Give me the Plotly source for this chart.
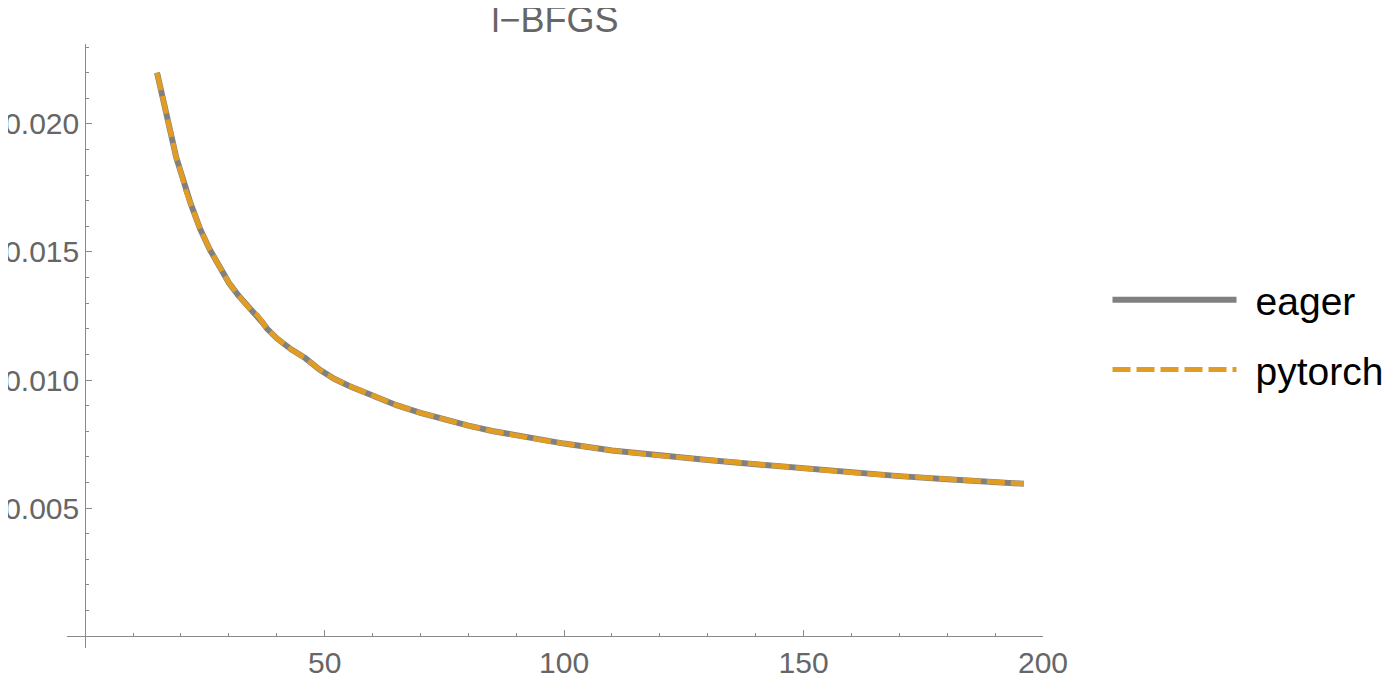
import plotly.graph_objects as go

iterations = [15, 16, 17, 18, 19, 20, 21, 22, 23, 24, 26, 28, 30, 32, 34, 35, 36, 37, 38, 40,
              43, 46, 49, 52, 55, 60, 65, 70, 75, 80, 85, 90, 95, 100, 110, 120, 130, 140,
              150, 160, 170, 180, 190, 196]
eager = [0.0220, 0.0212, 0.0202, 0.0194, 0.0187, 0.0181, 0.0174, 0.0169, 0.0164, 0.0159,
         0.0151, 0.0144, 0.0138, 0.0133, 0.0129, 0.01265, 0.01253, 0.01225, 0.01200, 0.01163,
         0.01120, 0.01085, 0.01040, 0.01005, 0.00978, 0.00940, 0.00902, 0.00872, 0.00846,
         0.00822, 0.00801, 0.00783, 0.00767, 0.00752, 0.00725, 0.00705, 0.00688, 0.00671,
         0.00655, 0.00639, 0.00625, 0.00613, 0.00602, 0.00595]
pytorch = list(eager)

x_ticks = [50, 100, 150, 200]
y_ticks = [0.005, 0.010, 0.015, 0.020]
y_tick_labels = ["0.005", "0.010", "0.015", "0.020"]

FONT = "Liberation Sans, Arial, sans-serif"
AXIS_COLOR = "#8a8a8a"
LABEL_COLOR = "#666666"
GAP = "\u00a0\u200a"

fig = go.Figure()
fig.add_trace(go.Scatter(x=iterations, y=eager, mode="lines", name=GAP + "eager",
                         legendgroup="a",
                         line=dict(color="#808080", width=6)))
fig.add_trace(go.Scatter(x=iterations, y=pytorch, mode="lines", name=GAP + "pytorch",
                         legendgroup="b",
                         line=dict(color="#E19C24", width=5, dash="18px,6px")))

x_range = [-3.8, 200]
y_range = [-0.00046, 0.02312]

# the page adds an 8px body margin; the figure is offset to match
fig.update_layout(
    width=1384, height=673,
    margin=dict(l=59, r=349, t=36, b=33, autoexpand=False),
    paper_bgcolor="white", plot_bgcolor="white",
    font=dict(family=FONT, color=LABEL_COLOR),
    title=dict(text="l\u2212BFGS", font=dict(size=36, color=LABEL_COLOR, family=FONT),
               x=0.5, xref="paper", xanchor="center",
               y=1 - 11 / 673, yref="container", yanchor="middle", automargin=False),
    showlegend=True,
    legend=dict(font=dict(size=39, color="black", family=FONT),
                xref="container", yref="container",
                x=1099.5 / 1384, xanchor="left", y=1 - 327 / 673, yanchor="middle",
                tracegroupgap=16, itemwidth=124, bgcolor="rgba(0,0,0,0)"),
    xaxis=dict(range=x_range, domain=[0, 1], anchor="free", automargin=False,
               position=(0 - y_range[0]) / (y_range[1] - y_range[0]),
               showline=True, linecolor=AXIS_COLOR, linewidth=1,
               showgrid=False, zeroline=False,
               tickmode="array", tickvals=x_ticks, ticks="inside", ticklen=6,
               tickcolor=AXIS_COLOR, ticklabelstandoff=0,
               tickfont=dict(size=30, color=LABEL_COLOR, family=FONT),
               minor=dict(ticks="inside", dtick=10, tick0=0, ticklen=3, tickcolor=AXIS_COLOR)),
    yaxis=dict(range=y_range, domain=[0, 1], anchor="free", automargin=False,
               position=(0 - x_range[0]) / (x_range[1] - x_range[0]),
               showline=True, linecolor=AXIS_COLOR, linewidth=1,
               showgrid=False, zeroline=False,
               tickmode="array", tickvals=y_ticks, ticktext=y_tick_labels,
               ticks="inside", ticklen=6, tickcolor=AXIS_COLOR,
               tickfont=dict(size=30, color=LABEL_COLOR, family=FONT),
               ticklabelstandoff=0,
               minor=dict(ticks="inside", dtick=0.001, tick0=0, ticklen=3, tickcolor=AXIS_COLOR)),
)

fig.write_html("out.html")
